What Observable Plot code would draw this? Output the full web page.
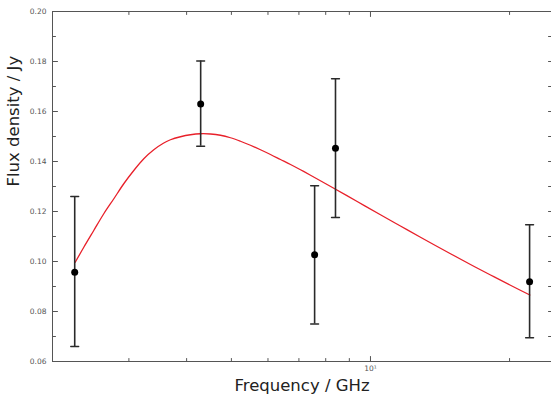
<!DOCTYPE html>
<html>
<head>
<meta charset="utf-8">
<script src="https://cdn.jsdelivr.net/npm/d3@7"></script>
<script src="https://cdn.jsdelivr.net/npm/@observablehq/plot@0.6"></script>
<style>
  html, body { margin: 0; padding: 0; background: #fff; }
  #chart svg { display: block; }
</style>
</head>
<body>
<div id="chart"></div>
<script>
// Measured data points (GHz, Jy) with error bounds
const freq   = [2.29, 4.29, 7.57, 8.40, 22.1];
const flux   = [0.0957, 0.1630, 0.1027, 0.1453, 0.0919];
const fluxLo = [0.0660, 0.1461, 0.0750, 0.1176, 0.0695];
const fluxHi = [0.1260, 0.1802, 0.1303, 0.1731, 0.1147];

// Fitted model curve
const modelFreq = [2.296, 2.396, 2.518, 2.647, 2.783, 2.924, 3.074, 3.231, 3.396, 3.569, 3.690, 3.879, 4.077, 4.286, 4.505, 4.735, 4.977, 5.231, 5.498, 5.780, 6.075, 6.386, 6.713, 7.055, 7.417, 8.329, 9.359, 10.51, 11.61, 12.83, 14.90, 16.46, 18.19, 20.09, 22.13];
const modelFlux = [0.0997, 0.1057, 0.1124, 0.1191, 0.1251, 0.1311, 0.1364, 0.1411, 0.1447, 0.1474, 0.1487, 0.1499, 0.1507, 0.1511, 0.1510, 0.1505, 0.1495, 0.1481, 0.1465, 0.1447, 0.1428, 0.1408, 0.1388, 0.1367, 0.1345, 0.1293, 0.1240, 0.1187, 0.1142, 0.1097, 0.1031, 0.0988, 0.0946, 0.0905, 0.0866];

// Tick values
const yMajor = [0.06, 0.08, 0.10, 0.12, 0.14, 0.16, 0.18, 0.20];
const yMinor = [0.07, 0.09, 0.11, 0.13, 0.15, 0.17, 0.19];
const xMajor = [10];
const xMinor = [3, 4, 5, 6, 7, 8, 9, 20];
const xMajorLabels = ["10¹"];

const points = freq.map((f, i) => ({f, s: flux[i], lo: fluxLo[i], hi: fluxHi[i]}));
const model = modelFreq.map((f, i) => ({f, s: modelFlux[i]}));

const axisColor = "#555";
const errColor = "#2a2a2a";
// straight segment from the anchor point, pointing along the vector direction
const seg = {draw(ctx, l) { ctx.moveTo(0, 0); ctx.lineTo(0, -l); }};

// inward tick helper
const ticks = (values, dim, anchor, len) => {
  const rot = {bottom: 0, top: 180, left: 90, right: -90}[anchor];
  return Plot.vector(values, {
    [dim]: d => d, frameAnchor: anchor, length: len, rotate: rot,
    anchor: "start", shape: seg, stroke: axisColor, strokeWidth: 1
  });
};

const chart = Plot.plot({
  width: 551,
  height: 397,
  marginLeft: 52,
  marginRight: 0,
  marginTop: 11,
  marginBottom: 36,
  style: {fontFamily: "DejaVu Sans, sans-serif", background: "#fff", color: "#222"},
  x: {type: "log", domain: [2.05, 24.65], axis: null},
  y: {domain: [0.06, 0.20], axis: null},
  marks: [
    Plot.frame({stroke: axisColor}),
    // inward tick marks
    ticks(yMajor, "y", "left", 5),
    ticks(yMinor, "y", "left", 3),
    ticks(yMajor.concat(yMinor), "y", "right", 3),
    ticks(xMajor, "x", "bottom", 5),
    ticks(xMinor, "x", "bottom", 3),
    ticks(xMajor, "x", "top", 5),
    ticks(xMinor, "x", "top", 3),
    // tick labels
    Plot.text(yMajor, {y: d => d, frameAnchor: "left", dx: -6, textAnchor: "end", text: d3.format(".2f"), fontSize: 7.5, fill: "#555"}),
    Plot.text(xMajor, {x: d => d, frameAnchor: "bottom", dy: 9, text: (d, i) => xMajorLabels[i], fontSize: 7.5, fill: "#555"}),
    // axis titles
    Plot.text(["Frequency / GHz"], {frameAnchor: "bottom", dy: 29, fontSize: 16.5, fill: "#222"}),
    Plot.text(["Flux density / Jy"], {frameAnchor: "left", dx: -39, rotate: -90, fontSize: 16.5, fill: "#222"}),
    // model
    Plot.line(model, {x: "f", y: "s", stroke: "#e8202a", strokeWidth: 1.3, curve: "catmull-rom"}),
    // error bars
    Plot.ruleX(points, {x: "f", y1: "lo", y2: "hi", stroke: errColor, strokeWidth: 1.6}),
    Plot.vector(points, {x: "f", y: "lo", length: 8, rotate: 90, anchor: "middle", shape: seg, stroke: errColor, strokeWidth: 1.3}),
    Plot.vector(points, {x: "f", y: "hi", length: 8, rotate: 90, anchor: "middle", shape: seg, stroke: errColor, strokeWidth: 1.3}),
    Plot.dot(points, {x: "f", y: "s", r: 3.5, fill: "#000"})
  ]
});
document.getElementById("chart").appendChild(chart);
</script>
</body>
</html>
